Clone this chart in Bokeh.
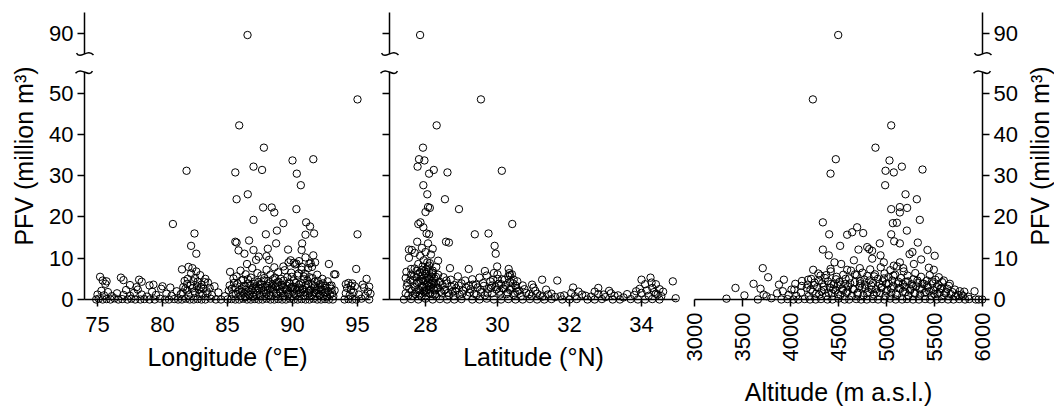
import math
from bokeh.plotting import figure
from bokeh.models import LinearAxis, FixedTicker, Range1d
from bokeh.core.properties import value
from bokeh.layouts import row
from bokeh.embed import file_html
from bokeh.resources import INLINE

FONT = "Liberation Sans"

# ---------------- data ----------------
# PFV in million m^3 against longitude (deg E)
longitude_points = [
    (86.54, 89.7), (95.0, 48.5), (85.9, 42.2), (87.8, 36.8), (81.85, 31.2), (85.6, 30.8),
    (87.0, 32.2), (87.66, 31.4), (90.0, 33.7), (91.6, 34.0), (90.33, 30.5), (90.64, 27.7),
    (86.56, 25.5), (85.7, 24.3), (80.8, 18.3), (87.74, 22.3), (88.4, 22.3), (88.6, 21.1),
    (90.3, 21.9), (87.0, 19.3), (89.3, 18.5), (91.05, 18.7), (91.35, 17.7), (82.46, 16.0),
    (87.95, 15.8), (88.8, 16.7), (91.0, 15.7), (91.66, 16.0), (95.0, 15.8), (82.2, 13.0),
    (82.6, 11.1), (85.6, 14.0), (85.7, 13.8), (86.66, 14.3), (88.74, 13.6), (90.74, 13.6),
    (85.85, 11.9), (86.3, 11.1), (87.0, 12.0), (88.1, 12.3), (89.66, 12.1), (90.7, 12.0),
    (87.2, 9.6), (88.2, 9.6), (86.5, 8.6), (91.6, 10.7), (91.74, 9.0), (92.8, 8.6),
    (94.9, 7.4), (93.3, 6.1), (81.5, 7.3), (85.2, 6.7), (86.0, 7.0), (88.0, 10.5),
    (89.85, 9.5), (90.3, 8.7), (90.7, 7.9), (91.2, 7.6), (91.4, 8.8), (89.7, 9.0),
    (90.1, 8.9), (90.5, 9.3), (91.0, 10.2), (91.3, 8.7), (89.3, 8.0), (87.4, 10.4),
    # 3 - 8
    (75.2, 5.5), (75.4, 4.6), (75.6, 3.8), (75.7, 4.4), (76.8, 5.3), (77.0, 4.7), (77.5, 3.5),
    (78.2, 4.8), (78.4, 4.3), (78.0, 3.0), (79.0, 3.4), (79.3, 3.6), (80.0, 3.2), (80.6, 2.9),
    (81.7, 4.5), (81.9, 3.8), (82.0, 7.9), (82.2, 6.3), (82.3, 7.6), (82.5, 5.2), (82.6, 6.8),
    (82.7, 4.3), (82.9, 5.9), (83.0, 3.6), (83.3, 5.0), (83.5, 4.1), (84.0, 3.2), (85.5, 4.0),
    (85.7, 5.6), (86.2, 4.8), (86.4, 6.1), (86.6, 3.9), (86.8, 5.3), (86.9, 7.6), (87.1, 4.4),
    (87.3, 6.4), (87.5, 3.7), (87.6, 5.8), (87.8, 4.6), (88.0, 7.2), (88.2, 3.9), (88.3, 6.0),
    (88.5, 4.9), (88.6, 7.8), (88.8, 4.1), (88.9, 6.6), (89.1, 5.0), (89.2, 3.5), (89.4, 7.1),
    (89.6, 5.4), (89.8, 3.8), (89.9, 6.5), (90.1, 4.6), (90.2, 8.5), (90.4, 5.8), (90.5, 3.6),
    (90.7, 7.2), (90.9, 4.9), (91.0, 6.2), (91.2, 3.8), (91.3, 5.4), (91.5, 7.9), (91.7, 4.3),
    (91.9, 6.0), (92.1, 3.7), (92.3, 5.0), (92.5, 3.3), (92.7, 4.4), (93.0, 3.4), (93.2, 6.1),
    (94.1, 3.7), (94.3, 4.0), (94.5, 3.3), (94.6, 3.9), (95.4, 3.6), (95.7, 5.0), (95.9, 3.1),
    (95.5, 2.9), (96.0, 1.4),
    # 0.5 - 3
    (75.0, 1.2), (75.3, 2.1), (75.5, 1.0), (75.8, 1.8), (76.1, 0.8), (76.5, 1.5), (77.0, 1.1),
    (77.2, 2.3), (77.5, 0.9), (77.8, 1.6), (78.1, 2.4), (78.4, 1.2), (78.8, 0.7), (79.2, 1.9),
    (79.5, 1.1), (79.9, 2.6), (80.3, 1.4), (80.7, 0.9), (81.1, 2.0), (81.4, 1.3), (81.6, 3.0),
    (81.9, 2.2), (82.0, 1.0), (82.3, 2.7), (82.5, 1.6), (82.8, 2.4), (83.1, 1.2), (83.4, 2.0),
    (83.8, 1.1), (84.3, 1.7), (84.8, 0.8), (85.1, 2.2), (85.4, 1.4), (85.6, 2.9), (85.8, 1.9),
    (86.0, 0.9), (86.1, 2.6), (86.3, 1.5), (86.4, 3.1), (86.6, 2.0), (86.7, 1.0), (86.9, 2.7),
    (87.0, 1.6), (87.2, 3.2), (87.3, 2.1), (87.5, 1.2), (87.6, 2.8), (87.8, 1.7), (87.9, 3.0),
    (88.1, 2.2), (88.2, 1.0), (88.4, 2.9), (88.5, 1.8), (88.7, 3.1), (88.8, 1.3), (89.0, 2.5),
    (89.1, 1.5), (89.3, 2.9), (89.4, 0.9), (89.6, 2.2), (89.7, 1.4), (89.9, 3.0), (90.0, 1.9),
    (90.2, 2.6), (90.3, 1.1), (90.5, 2.9), (90.6, 1.7), (90.8, 2.4), (90.9, 1.0), (91.1, 2.8),
    (91.2, 1.6), (91.4, 2.3), (91.5, 1.1), (91.7, 2.9), (91.8, 1.5), (92.0, 2.4), (92.1, 1.0),
    (92.3, 2.0), (92.4, 0.8), (92.6, 1.7), (92.9, 1.2), (93.0, 2.6), (94.1, 1.5), (94.2, 2.8),
    (94.4, 1.0), (94.5, 2.3), (94.7, 1.8), (94.8, 3.2), (95.1, 1.2), (95.6, 0.9), (95.8, 1.9),
    (85.17, 3.4), (85.33, 2.6), (85.46, 5.1), (85.64, 1.3), (85.77, 3.9), (85.93, 2.3),
    (86.06, 4.6), (86.14, 1.9), (86.27, 3.3), (86.36, 0.6), (86.43, 2.4), (86.57, 4.9),
    (86.63, 1.2), (86.76, 3.5), (86.84, 2.2), (86.97, 0.7), (87.04, 3.8), (87.16, 2.5),
    (87.23, 1.1), (87.37, 4.2), (87.44, 2.7), (87.56, 0.8), (87.63, 3.6), (87.77, 2.3),
    (87.84, 5.2), (87.96, 1.4), (88.07, 3.3), (88.13, 4.5), (88.26, 2.6), (88.34, 0.9),
    (88.47, 3.7), (88.53, 2.4), (88.66, 5.3), (88.74, 1.6), (88.87, 3.2), (88.93, 4.3),
    (89.06, 1.9), (89.14, 3.6), (89.27, 0.8), (89.33, 4.6), (89.46, 2.5), (89.54, 3.4),
    (89.67, 1.2), (89.73, 4.1), (89.86, 2.7), (89.94, 5.5), (90.07, 3.1), (90.13, 1.3),
    (90.26, 4.0), (90.34, 2.2), (90.47, 6.3), (90.53, 1.5), (90.66, 3.9), (90.74, 2.6),
    (90.87, 5.6), (90.93, 1.8), (91.06, 3.5), (91.14, 4.6), (91.27, 2.1), (91.33, 0.9),
    (91.46, 3.7), (91.54, 5.2), (91.67, 1.7), (91.73, 3.3), (91.86, 2.2), (91.94, 4.5),
    (92.07, 1.2), (92.13, 3.0), (92.26, 2.4), (92.34, 3.9), (92.47, 1.6), (92.53, 2.8),
    (92.66, 0.7), (92.74, 2.1), (92.87, 3.3), (93.06, 1.5), (93.14, 0.8), (93.24, 2.2),
    (81.55, 1.7), (81.76, 2.6), (81.94, 5.0), (82.16, 3.4), (82.37, 4.4), (82.44, 2.0),
    (82.66, 3.2), (82.84, 1.4), (82.97, 3.0), (83.16, 2.6), (83.24, 4.2), (83.46, 1.5),
    (83.63, 2.8),
    # ~0
    (74.9, 0.0), (75.1, 0.2), (75.4, 0.0), (75.7, 0.1), (76.0, 0.0), (76.3, 0.3), (76.6, 0.0),
    (76.9, 0.1), (77.3, 0.0), (77.6, 0.2), (77.9, 0.0), (78.3, 0.0), (78.6, 0.1), (79.0, 0.0),
    (79.4, 0.0), (79.8, 0.2), (80.2, 0.0), (80.5, 0.0), (80.9, 0.1), (81.2, 0.0), (81.5, 0.0),
    (81.8, 0.2), (82.1, 0.0), (82.4, 0.0), (82.7, 0.1), (83.0, 0.0), (83.3, 0.0), (83.7, 0.2),
    (84.1, 0.0), (84.5, 0.0), (85.0, 0.0), (85.3, 0.1), (85.6, 0.0), (85.9, 0.0), (86.2, 0.2),
    (86.5, 0.0), (86.8, 0.0), (87.1, 0.1), (87.4, 0.0), (87.7, 0.0), (88.0, 0.2), (88.3, 0.0),
    (88.6, 0.0), (88.9, 0.1), (89.2, 0.0), (89.5, 0.0), (89.8, 0.2), (90.1, 0.0), (90.4, 0.0),
    (90.7, 0.1), (91.0, 0.0), (91.3, 0.0), (91.6, 0.2), (91.9, 0.0), (92.2, 0.0), (92.5, 0.1),
    (92.8, 0.0), (93.1, 0.0), (94.0, 0.0), (94.3, 0.1), (94.6, 0.0), (94.9, 0.0), (95.3, 0.2),
    (95.9, 0.0),
]

# PFV against latitude (deg N)
latitude_points = [
    (27.85, 89.7), (29.54, 48.5), (28.31, 42.2), (27.93, 36.8), (27.82, 34.0), (27.97, 33.7),
    (27.78, 32.2), (28.23, 31.4), (28.10, 30.5), (28.61, 30.8), (30.12, 31.2), (27.94, 27.7),
    (28.05, 25.5), (28.54, 24.3), (28.07, 22.4), (28.12, 22.2), (28.0, 21.2), (28.93, 21.9),
    (27.86, 18.7), (27.80, 18.3), (27.94, 17.5), (28.03, 16.0), (28.10, 15.8), (29.37, 15.8),
    (29.75, 16.0), (30.41, 18.3), (29.92, 13.0), (29.95, 11.1), (27.77, 14.0), (28.07, 13.6),
    (28.57, 14.0), (28.65, 13.8), (27.54, 12.1), (27.62, 12.0), (27.54, 10.1), (28.68, 7.6),
    (29.20, 7.4), (29.99, 8.0), (30.31, 7.4), (29.65, 6.9), (27.47, 6.7), (27.9, 12.5),
    (28.0, 11.5), (27.85, 10.6), (28.15, 10.9), (28.2, 12.3), (27.7, 11.3), (27.95, 9.5),
    (28.05, 9.0), (27.8, 8.6), (28.1, 8.2), (28.3, 7.9), (27.6, 7.4), (27.75, 6.9),
    (27.9, 7.2), (28.2, 6.5), (28.35, 9.4), (30.0, 6.1), (30.35, 5.9), (30.45, 4.8),
    # 3 - 8
    (27.45, 5.2), (27.5, 4.0), (27.6, 6.0), (27.65, 4.6), (27.7, 7.5), (27.75, 5.4), (27.8, 4.2),
    (27.85, 6.6), (27.9, 5.0), (27.92, 8.0), (27.95, 4.4), (28.0, 6.2), (28.02, 7.3), (28.05, 5.3),
    (28.08, 4.1), (28.1, 6.8), (28.12, 8.8), (28.15, 5.6), (28.18, 4.5), (28.2, 7.0), (28.25, 5.1),
    (28.3, 3.8), (28.35, 6.0), (28.4, 4.3), (28.5, 5.4), (28.6, 3.9), (28.7, 4.8), (28.8, 3.5),
    (28.9, 5.6), (29.0, 3.9), (29.1, 4.6), (29.2, 3.3), (29.3, 4.9), (29.4, 3.6), (29.5, 5.3),
    (29.6, 4.0), (29.7, 5.8), (29.8, 4.4), (29.85, 3.4), (29.9, 6.4), (30.0, 5.0), (30.1, 3.7),
    (30.2, 4.8), (30.3, 5.6), (30.35, 4.2), (30.4, 6.1), (30.5, 3.4), (30.55, 4.4), (30.7, 3.4),
    (30.96, 3.6), (31.0, 2.9), (31.24, 4.8), (31.66, 4.6), (32.1, 2.9), (32.8, 2.8), (33.1, 2.1),
    (34.0, 4.8), (34.25, 5.3), (34.87, 4.4), (34.1, 3.7), (34.4, 3.7), (34.3, 2.8), (34.5, 2.5),
    (33.85, 2.0),
    # 0.5 - 3
    (27.45, 1.5), (27.55, 2.6), (27.65, 0.9), (27.7, 3.0), (27.75, 1.8), (27.8, 2.5), (27.85, 1.2),
    (27.9, 3.3), (27.95, 2.0), (28.0, 1.0), (28.02, 2.9), (28.05, 3.6), (28.08, 1.6), (28.1, 2.4),
    (28.15, 3.1), (28.2, 1.3), (28.25, 2.2), (28.3, 0.8), (28.35, 2.8), (28.45, 1.5), (28.55, 2.4),
    (28.65, 1.0), (28.75, 1.9), (28.85, 2.7), (28.95, 1.2), (29.05, 2.1), (29.15, 0.9), (29.25, 2.5),
    (29.35, 1.4), (29.45, 2.9), (29.55, 1.8), (29.65, 1.0), (29.75, 2.6), (29.85, 1.5), (29.95, 3.0),
    (30.05, 1.9), (30.15, 2.7), (30.25, 1.3), (30.35, 2.3), (30.45, 1.1), (30.55, 1.9), (30.65, 0.8),
    (30.8, 1.6), (30.95, 0.9), (31.1, 1.4), (31.25, 0.7), (31.4, 1.2), (31.6, 0.6), (31.85, 1.0),
    (32.05, 1.6), (32.15, 0.8), (32.35, 1.2), (32.6, 0.7), (32.8, 1.3), (33.0, 0.6), (33.25, 0.9),
    (33.5, 0.5), (33.8, 1.1), (34.0, 1.6), (34.2, 0.9), (34.35, 1.8), (34.45, 1.2), (34.55, 0.8),
    (27.48, 3.2), (27.52, 1.0), (27.58, 4.8), (27.62, 2.1), (27.68, 5.6), (27.72, 1.3),
    (27.76, 3.9), (27.79, 6.2), (27.83, 2.2), (27.87, 4.5), (27.89, 0.7), (27.91, 5.8),
    (27.93, 3.0), (27.96, 6.9), (27.98, 1.6), (28.01, 4.8), (28.03, 2.3), (28.06, 7.8),
    (28.09, 3.4), (28.11, 5.0), (28.13, 1.4), (28.16, 3.8), (28.19, 6.1), (28.22, 2.6),
    (28.24, 4.0), (28.27, 1.2), (28.29, 5.5), (28.32, 2.9), (28.37, 4.1), (28.42, 1.9),
    (28.47, 3.5), (28.52, 2.2), (28.58, 4.6), (28.63, 1.6), (28.72, 3.1), (28.78, 0.9),
    (28.83, 2.1), (28.92, 3.4), (29.02, 1.4), (29.12, 2.9), (29.22, 1.7), (29.32, 3.6),
    (29.42, 1.1), (29.52, 2.4), (29.62, 3.3), (29.72, 1.5), (29.82, 2.8), (29.88, 4.8),
    (29.97, 2.4), (30.03, 3.8), (30.08, 1.2), (30.13, 4.9), (30.18, 2.6), (30.23, 3.5),
    (30.28, 1.7), (30.33, 6.4), (30.38, 2.9), (30.43, 3.9), (30.48, 1.5), (30.52, 2.8),
    (30.6, 2.2), (30.75, 2.5), (30.88, 1.3), (31.05, 2.1), (31.18, 1.0), (31.35, 2.4),
    (31.5, 1.4), (31.75, 0.8), (32.25, 1.9), (32.45, 0.9), (32.7, 1.9), (32.95, 1.2),
    (33.15, 1.5), (33.35, 1.0), (33.6, 1.3), (33.95, 2.6), (34.15, 2.2), (34.28, 4.1),
    (34.4, 1.4), (34.6, 1.9),
    # ~0
    (27.4, 0.0), (27.6, 0.1), (27.8, 0.0), (28.0, 0.2), (28.2, 0.0), (28.4, 0.1), (28.6, 0.0),
    (28.8, 0.0), (29.0, 0.1), (29.3, 0.0), (29.5, 0.0), (29.7, 0.2), (29.9, 0.0), (30.1, 0.0),
    (30.3, 0.1), (30.5, 0.0), (30.7, 0.0), (30.9, 0.1), (31.1, 0.0), (31.3, 0.0), (31.5, 0.1),
    (31.8, 0.0), (32.0, 0.0), (32.2, 0.1), (32.5, 0.0), (32.7, 0.0), (32.9, 0.1), (33.2, 0.0),
    (33.4, 0.0), (33.7, 0.1), (33.9, 0.0), (34.1, 0.0), (34.3, 0.1), (34.5, 0.0), (34.95, 0.3),
]

# PFV against altitude (m a.s.l.)
altitude_points = [
    (4497, 89.7), (4233, 48.5), (5049, 42.2), (4885, 36.8), (4472, 34.0), (4417, 30.5),
    (5031, 33.7), (4990, 31.2), (5076, 30.8), (5160, 32.2), (5375, 31.5), (4986, 27.7),
    (5198, 25.5), (5316, 24.3), (5049, 21.9), (5139, 22.4), (5215, 22.2), (5139, 21.1),
    (5347, 19.3), (4337, 18.7), (5066, 18.5), (5108, 18.6), (4694, 17.5), (4642, 16.3),
    (4590, 15.7), (4757, 16.1), (4403, 15.8), (5049, 15.8), (5212, 16.7), (4930, 13.6),
    (5080, 14.1), (5139, 13.6), (5326, 13.8), (4517, 13.0), (4337, 12.1), (4708, 12.1),
    (4820, 12.2), (4850, 11.8), (5427, 12.0), (4399, 10.7), (5502, 10.6), (5240, 11.0),
    (5270, 11.5), (4458, 9.0), (4236, 7.2), (3711, 7.6), (3767, 5.4), (3615, 3.8),
    (3427, 2.8), (3931, 4.8), (3880, 3.6), (3688, 2.6), (5917, 2.0), (4799, 12.7),
    (4851, 9.9), (4938, 10.7), (4972, 9.0), (5076, 8.2), (5139, 9.0), (5174, 7.6),
    (5285, 8.6), (5361, 9.7), (5441, 7.7), (5493, 7.2), (5545, 5.4), (5597, 4.6),
    (5660, 3.8), (5712, 2.4), (5764, 2.0), (4660, 9.5), (4528, 8.6), (4590, 7.2),
    (4722, 7.6), (4417, 7.4), (4313, 5.8), (4184, 4.8), (4115, 3.3), (4010, 2.4),
    # 3.5 - 8
    (4050, 3.8), (4120, 4.5), (4180, 3.6), (4215, 5.0), (4250, 4.1), (4290, 6.3), (4330, 3.9),
    (4360, 5.2), (4390, 4.4), (4420, 6.8), (4450, 3.7), (4480, 5.5), (4510, 4.3), (4550, 6.0),
    (4570, 3.8), (4610, 5.1), (4630, 7.0), (4670, 4.2), (4690, 5.9), (4730, 3.9), (4750, 6.5),
    (4770, 4.8), (4800, 5.7), (4830, 7.3), (4860, 4.0), (4880, 6.1), (4910, 5.0), (4940, 7.8),
    (4960, 4.4), (4980, 6.3), (5000, 3.8), (5020, 5.4), (5040, 7.1), (5060, 4.6), (5090, 6.0),
    (5110, 8.0), (5120, 3.9), (5150, 5.2), (5180, 6.8), (5200, 4.3), (5220, 5.8), (5260, 3.7),
    (5280, 4.9), (5300, 6.4), (5330, 4.1), (5360, 5.5), (5390, 3.8), (5420, 4.6), (5450, 5.9),
    (5480, 3.9), (5510, 4.8), (5540, 3.5), (5580, 4.2), (5650, 3.3),
    # 0.5 - 3.5
    (3520, 1.0), (3720, 1.2), (3750, 0.8), (3860, 1.5), (3920, 2.0), (3980, 1.1), (4040, 2.4),
    (4060, 0.9), (4110, 1.7), (4170, 2.8), (4190, 0.8), (4230, 1.9), (4280, 3.0), (4300, 1.2),
    (4350, 2.3), (4370, 0.9), (4410, 2.9), (4430, 1.5), (4470, 2.2), (4490, 3.3), (4520, 1.1),
    (4540, 2.6), (4580, 1.7), (4600, 3.1), (4640, 0.9), (4660, 2.4), (4700, 1.6), (4720, 3.2),
    (4760, 1.0), (4780, 2.7), (4810, 1.8), (4840, 3.4), (4870, 1.2), (4890, 2.5), (4930, 1.6),
    (4950, 3.0), (4990, 0.9), (5010, 2.3), (5050, 1.5), (5070, 3.3), (5110, 1.1), (5130, 2.8),
    (5170, 1.9), (5190, 3.1), (5230, 1.0), (5250, 2.5), (5290, 1.6), (5310, 3.2), (5350, 1.2),
    (5370, 2.6), (5410, 1.8), (5430, 2.9), (5470, 0.9), (5490, 2.2), (5530, 1.4), (5560, 2.6),
    (5600, 1.0), (5620, 1.9), (5670, 1.3), (5720, 0.8), (5780, 1.2), (5810, 1.9), (5850, 0.7),
    (4208, 2.4), (4244, 3.5), (4268, 1.4), (4296, 4.6), (4322, 2.0), (4346, 3.1), (4372, 5.9),
    (4396, 1.6), (4424, 3.8), (4446, 2.5), (4474, 4.9), (4496, 1.3), (4522, 3.6), (4548, 2.2),
    (4574, 5.0), (4596, 1.9), (4622, 3.9), (4648, 2.6), (4672, 6.1), (4698, 1.2), (4724, 4.5),
    (4746, 2.9), (4774, 3.6), (4798, 1.5), (4822, 4.6), (4846, 2.4), (4872, 5.6), (4896, 1.7),
    (4924, 3.8), (4946, 2.8), (4972, 5.1), (4996, 2.0), (5022, 3.9), (5046, 2.7), (5072, 5.8),
    (5096, 1.4), (5124, 4.3), (5146, 2.6), (5172, 3.7), (5196, 1.8), (5224, 4.4), (5246, 2.2),
    (5274, 3.3), (5296, 1.4), (5322, 4.6), (5346, 2.5), (5374, 3.8), (5396, 1.6), (5424, 3.4),
    (5446, 2.0), (5474, 4.4), (5498, 1.3), (5524, 3.0), (5552, 1.7), (5574, 2.8), (5612, 1.5),
    (5634, 2.6), (5686, 1.8), (5742, 1.1), (5796, 0.9),
    # ~0
    (3333, 0.2), (3660, 0.0), (3800, 0.3), (3905, 0.0), (3968, 0.1), (4031, 0.0), (4082, 0.0),
    (4147, 0.1), (4203, 0.0), (4262, 0.0), (4318, 0.1), (4385, 0.0), (4437, 0.0), (4499, 0.2),
    (4563, 0.0), (4611, 0.0), (4684, 0.1), (4736, 0.0), (4795, 0.0), (4858, 0.1), (4912, 0.0),
    (4977, 0.0), (5038, 0.2), (5096, 0.0), (5163, 0.0), (5214, 0.1), (5276, 0.0), (5338, 0.0),
    (5402, 0.1), (5455, 0.0), (5523, 0.0), (5577, 0.1), (5641, 0.0), (5698, 0.0), (5757, 0.1),
    (5818, 0.0), (5862, 0.1), (5930, 0.0), (5960, 0.0), (5997, 0.0),
]

pfv_ticks_low = [0, 10, 20, 30, 40, 50]
pfv_tick_high = 90
lon_ticks = [75, 80, 85, 90, 95]
lat_ticks = [28, 30, 32, 34]
alt_ticks = [3000, 3500, 4000, 4500, 5000, 5500, 6000]
pfv_label = "PFV (million m³)"

# ---------------- broken y axis ----------------
LOW_TOP = 55.1      # top of lower axis segment
OFFSET = 25.6       # values of the upper segment are drawn lowered by this
HIGH_BOTTOM = 85.1 - OFFSET
PX_PER_Y = 4.126
FRAME_H = 287
Y_TOP = FRAME_H / PX_PER_Y
TICK_FONT = "22px"


def ty(v):
    return v if v <= LOW_TOP else v - OFFSET


def style_axis(ax):
    ax.axis_line_width = 1.5
    ax.axis_line_color = "black"
    ax.major_tick_line_width = 1.5
    ax.major_tick_line_color = "black"
    ax.major_tick_out = 7
    ax.major_tick_in = 0
    ax.minor_tick_line_color = None
    ax.major_label_text_font = FONT
    ax.major_label_text_font_size = TICK_FONT
    ax.major_label_text_color = "black"
    ax.major_label_standoff = 4
    ax.axis_label_text_font = FONT
    ax.axis_label_text_font_size = "25px"
    ax.axis_label_text_font_style = "normal"
    ax.axis_label_text_color = "black"


def panel(points, xr, ppx, mb_l, mb_r, side, xticks, xlabel,
          ylabels=True, ylabel=None, vertical=False):
    frame_w = int(round((xr[1] - xr[0]) * ppx))
    p = figure(frame_width=frame_w, frame_height=FRAME_H,
               x_range=Range1d(*xr), y_range=Range1d(0, Y_TOP),
               x_axis_type=None, y_axis_type=None,
               toolbar_location=None, output_backend="svg",
               min_border_left=mb_l, min_border_right=mb_r,
               min_border_top=12, min_border_bottom=96)
    p.outline_line_color = None
    p.background_fill_color = None
    p.border_fill_color = "white"

    xa = LinearAxis(ticker=FixedTicker(ticks=xticks), axis_label=xlabel)
    style_axis(xa)
    if vertical:
        xa.major_label_orientation = math.pi / 2
        xa.major_label_standoff = 6
        xa.axis_label_standoff = 14
    else:
        xa.major_label_standoff = 10
        xa.axis_label_standoff = 8
    p.add_layout(xa, "below")

    ticks = pfv_ticks_low + [ty(pfv_tick_high)]
    ya = LinearAxis(ticker=FixedTicker(ticks=ticks),
                    major_label_overrides={ty(pfv_tick_high): str(pfv_tick_high)})
    style_axis(ya)
    if not ylabels:
        ya.major_label_overrides = {t: "" for t in ticks}
    if ylabel:
        ya.axis_label = ylabel
        ya.axis_label_standoff = 8
    p.add_layout(ya, side)

    axis_x = xr[0] if side == "left" else xr[1]
    dx = lambda px: px / ppx
    dy = lambda px: -px / PX_PER_Y

    xs = [a for a, b in points]
    ys = [ty(b) for a, b in points]
    p.scatter(xs, ys, marker="circle", size=7.4, fill_color=None,
              line_color="black", line_width=1, level="overlay")

    # gap in the axis line and the two break marks
    p.quad(left=[axis_x + dx(-3)], right=[axis_x + dx(3)],
           bottom=[LOW_TOP], top=[HIGH_BOTTOM],
           fill_color="white", line_color=None, level="overlay")
    p.bezier(x0=[axis_x + dx(-8)], y0=[HIGH_BOTTOM + dy(-1)],
             x1=[axis_x + dx(9)], y1=[HIGH_BOTTOM + dy(1)],
             cx0=[axis_x + dx(-4)], cy0=[HIGH_BOTTOM + dy(6)],
             cx1=[axis_x + dx(3)], cy1=[HIGH_BOTTOM + dy(-6)],
             line_color="black", line_width=1.5, level="overlay")
    p.bezier(x0=[axis_x + dx(-9)], y0=[LOW_TOP + dy(1)],
             x1=[axis_x + dx(8)], y1=[LOW_TOP + dy(-1)],
             cx0=[axis_x + dx(-3)], cy0=[LOW_TOP + dy(-6)],
             cx1=[axis_x + dx(4)], cy1=[LOW_TOP + dy(6)],
             line_color="black", line_width=1.5, level="overlay")
    return p


# panel 1: longitude, 13 px per degree
p1 = panel(longitude_points, (74, 96), 13, 84, 8, "left", lon_ticks, "Longitude (°E)",
           ylabels=True, ylabel=pfv_label)
# panel 2: latitude, 36 px per degree
p2 = panel(latitude_points, (27, 35), 36, 11, 5, "left", lat_ticks, "Latitude (°N)",
           ylabels=False)
# panel 3: altitude, 0.096 px per m, axis on the right
p3 = panel(altitude_points, (3000, 6000), 0.096, 12, 72, "right", alt_ticks,
           "Altitude (m a.s.l.)", ylabels=True, vertical=True)
# right-hand title reads bottom to top, like the left one
p3.text(x=[6000 + 57 / 0.096], y=[Y_TOP / 2], text=[pfv_label], angle=math.pi / 2,
        text_align="center", text_baseline="middle", text_font=value(FONT),
        text_font_size="25px", text_color="black", level="overlay")

layout = row(p1, p2, p3)
open("out.html", "w").write(file_html(layout, INLINE))
